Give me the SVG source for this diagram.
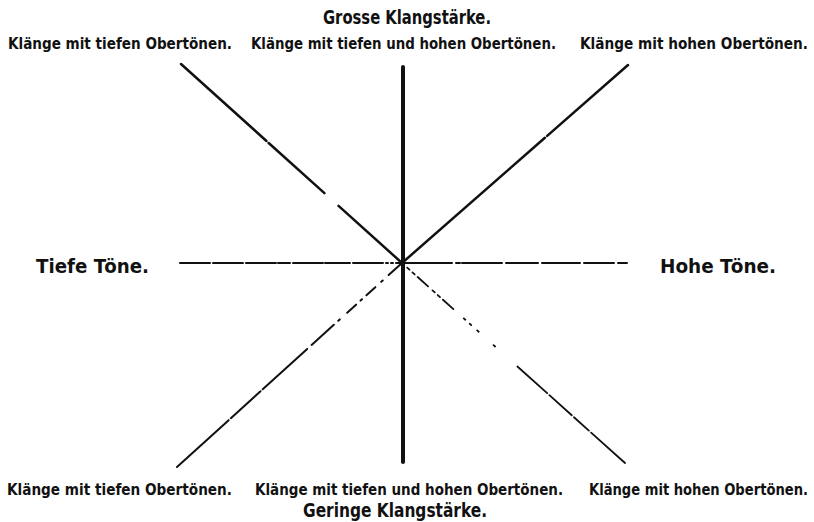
<svg xmlns="http://www.w3.org/2000/svg" width="814" height="522" viewBox="0 0 814 522">
<style>
text{font-family:"Liberation Sans Narrow","DejaVu Sans Condensed","Liberation Sans",sans-serif;font-weight:bold;fill:#111}
.h{font-size:20px}
.s{font-size:15px}
.m{font-size:19px}
line{stroke:#111;stroke-linecap:round;fill:none}
</style>
<rect width="814" height="522" fill="#fff"/>
<g id="connectors">
<line id="vertical" x1="403" y1="67" x2="403" y2="462" style="stroke-width:4"/>
<line id="horiz-left" x1="402" y1="263" x2="180" y2="263" style="stroke-width:2" stroke-dasharray="6 3 2 3 2 3 30 3 25 2 30 3 12 2 30 3 30 3 40"/>
<line id="horiz-right" x1="402" y1="263" x2="627" y2="263" style="stroke-width:2" stroke-dasharray="50 4 4 2 40 4 32 4 38 4 30 4 28 4 40"/>
<line id="diag-tl" x1="181" y1="64" x2="402" y2="263" style="stroke-width:2.5" stroke-dasharray="115 3 75 19 200"/>
<line id="diag-tr" x1="402" y1="263" x2="628" y2="65" style="stroke-width:2.5" stroke-dasharray="190 3 200"/>
<line id="diag-bl" x1="402" y1="263" x2="177" y2="467" style="stroke-width:2" stroke-dasharray="18 8 2 8 12 6 2 6 12 10 2 6 30 6 60 3 40 3 80"/>
<line id="diag-br" x1="402" y1="263" x2="625" y2="463" style="stroke-width:1.8" stroke-dasharray="3 4 3 4 3 4 14 6 3 4 3 4 14 14 2 6 2 8 2 20 2 30 40 3 30 3 20 3 100"/>
</g>
<g id="title-top"><text class="h" x="407" y="24" text-anchor="middle" textLength="168" lengthAdjust="spacingAndGlyphs">Grosse  Klangstärke.</text></g>
<g id="title-bottom"><text class="h" x="395" y="517" text-anchor="middle" textLength="184" lengthAdjust="spacingAndGlyphs">Geringe  Klangstärke.</text></g>
<g id="left"><text class="m" x="36" y="273" textLength="113" lengthAdjust="spacingAndGlyphs">Tiefe  Töne.</text></g>
<g id="right"><text class="m" x="660" y="273" textLength="116" lengthAdjust="spacingAndGlyphs">Hohe  Töne.</text></g>
<g id="top-left"><text class="s" x="8" y="49" textLength="224" lengthAdjust="spacingAndGlyphs">Klänge mit tiefen Obertönen.</text></g>
<g id="top-mid"><text class="s" x="251" y="49" textLength="305" lengthAdjust="spacingAndGlyphs">Klänge  mit tiefen und hohen Obertönen.</text></g>
<g id="top-right"><text class="s" x="580" y="49" textLength="228" lengthAdjust="spacingAndGlyphs">Klänge mit hohen Obertönen.</text></g>
<g id="bottom-left"><text class="s" x="7" y="495" textLength="225" lengthAdjust="spacingAndGlyphs">Klänge mit tiefen Obertönen.</text></g>
<g id="bottom-mid"><text class="s" x="255" y="495" textLength="308" lengthAdjust="spacingAndGlyphs">Klänge mit tiefen und hohen Obertönen.</text></g>
<g id="bottom-right"><text class="s" x="589" y="495" textLength="219" lengthAdjust="spacingAndGlyphs">Klänge mit hohen Obertönen.</text></g>
</svg>
